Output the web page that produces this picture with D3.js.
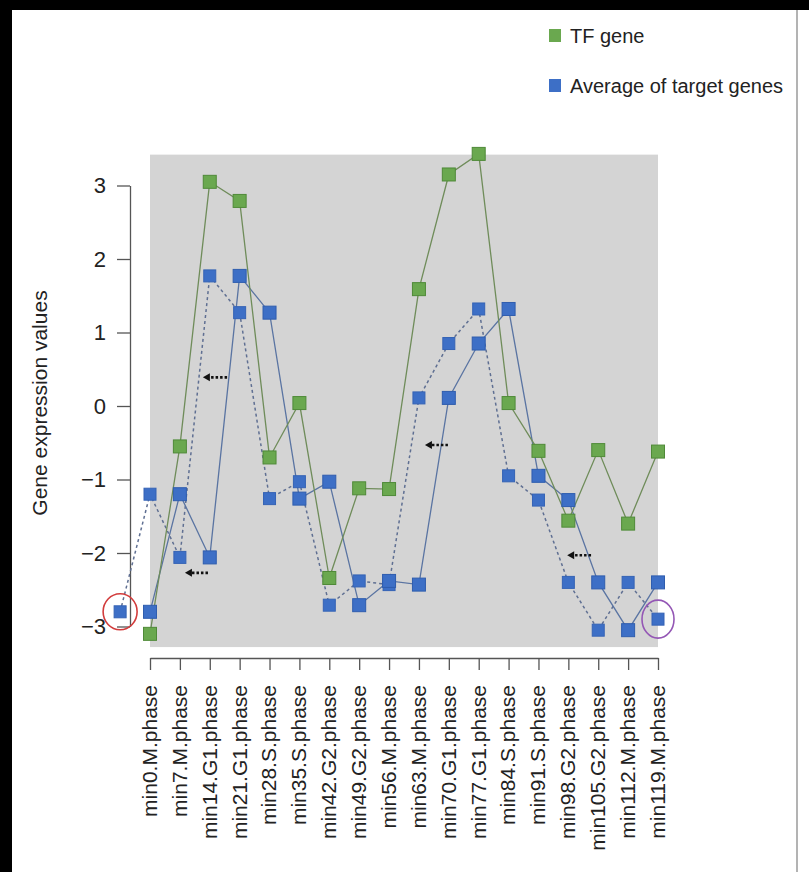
<!DOCTYPE html>
<html>
<head>
<meta charset="utf-8">
<script src="https://cdn.jsdelivr.net/npm/d3@7"></script>
<style>
  body { margin: 0; background: #fff; }
  svg { display: block; font-family: "Liberation Sans", Arial, Helvetica, sans-serif; }
</style>
</head>
<body>
<svg id="chart" width="809" height="872"></svg>
<script>
// time points (x categories)
var categories = ["min0.M.phase", "min7.M.phase", "min14.G1.phase", "min21.G1.phase",
    "min28.S.phase", "min35.S.phase", "min42.G2.phase", "min49.G2.phase", "min56.M.phase",
    "min63.M.phase", "min70.G1.phase", "min77.G1.phase", "min84.S.phase", "min91.S.phase",
    "min98.G2.phase", "min105.G2.phase", "min112.M.phase", "min119.M.phase"];

var tfGene = [-3.1, -0.55, 3.05, 2.79, -0.7, 0.04, -2.34, -1.12, -1.13, 1.59,
    3.15, 3.43, 0.04, -0.61, -1.56, -0.6, -1.6, -0.62];

var targetAvg = [-2.8, -1.2, -2.06, 1.77, 1.27, -1.26, -1.03, -2.71, -2.38, -2.43,
    0.11, 0.85, 1.32, -0.95, -1.28, -2.4, -3.05, -2.4];

// target average shifted one step earlier (starts one slot before min0)
var shiftedStart = -1;
var targetShifted = [-2.8, -1.2, -2.06, 1.77, 1.27, -1.26, -1.03, -2.71, -2.38, -2.43,
    0.11, 0.85, 1.32, -0.95, -1.28, -2.4, -3.05, -2.4, -2.9];

var yTicks = [-3, -2, -1, 0, 1, 2, 3];

// small dotted arrows (index, value) tail -> head
var arrows = [
    { x1: 2.58, x2: 1.77, y: 0.39 },
    { x1: 1.94, x2: 1.17, y: -2.27 },
    { x1: 9.97, x2: 9.2, y: -0.53 },
    { x1: 14.76, x2: 13.96, y: -2.03 }
];

var legendItems = [
    { label: "TF gene", color: "#6aa84f" },
    { label: "Average of target genes", color: "#3d6fc6" }
];

var svg = d3.select("#chart");

var x = d3.scaleLinear().domain([0, categories.length - 1]).range([150, 658]);
var y = d3.scaleLinear().domain([-3, 3]).range([626.5, 185.5]);

// frame
svg.append("rect").attr("x", 0).attr("y", 0).attr("width", 809).attr("height", 872).attr("fill", "#fff");
svg.append("rect").attr("x", 0).attr("y", 0).attr("width", 809).attr("height", 10).attr("fill", "#000");
svg.append("rect").attr("x", 0).attr("y", 0).attr("width", 12).attr("height", 872).attr("fill", "#000");
svg.append("line").attr("x1", 797).attr("x2", 797).attr("y1", 10).attr("y2", 872)
    .attr("stroke", "#9a9a9a").attr("stroke-width", 1.5);

// plot background
svg.append("rect")
    .attr("x", x(0))
    .attr("y", y(3.42))
    .attr("width", x(categories.length - 1) - x(0))
    .attr("height", y(-3.28) - y(3.42))
    .attr("fill", "#d4d4d4");

// y axis
var yAxis = svg.append("g")
    .attr("transform", "translate(130,0)")
    .call(d3.axisLeft(y).tickValues(yTicks).tickSize(13).tickSizeOuter(0).tickPadding(11)
        .tickFormat(d3.format("d")));
yAxis.select(".domain").attr("stroke", "#555").attr("stroke-width", 1.3);
yAxis.selectAll(".tick line").attr("stroke", "#555").attr("stroke-width", 1.3);
yAxis.selectAll("text").attr("font-size", 22).attr("fill", "#222");

// x axis
var xAxis = svg.append("g")
    .attr("transform", "translate(0,658)")
    .call(d3.axisBottom(x).tickValues(d3.range(categories.length)).tickSize(12).tickSizeOuter(0)
        .tickFormat(function (i) { return categories[i]; }));
xAxis.select(".domain").attr("stroke", "#555").attr("stroke-width", 1.3);
xAxis.selectAll(".tick line").attr("stroke", "#555").attr("stroke-width", 1.3);
xAxis.selectAll("text")
    .attr("transform", "rotate(-90)")
    .attr("x", -27)
    .attr("y", -1)
    .attr("dy", "0.35em")
    .attr("font-size", 21)
    .attr("fill", "#222")
    .style("text-anchor", "end");

// y title
svg.append("text")
    .attr("transform", "translate(47,403) rotate(-90)")
    .attr("text-anchor", "middle")
    .attr("font-size", 21)
    .attr("fill", "#222")
    .text("Gene expression values");

// lines
var line = d3.line()
    .x(function (d) { return x(d.i); })
    .y(function (d) { return y(d.v); });

function toPoints(values, start) {
    return values.map(function (v, k) { return { i: k + start, v: v }; });
}

var shiftedPts = toPoints(targetShifted, shiftedStart);
var targetPts = toPoints(targetAvg, 0);
var tfPts = toPoints(tfGene, 0);

svg.append("path").datum(shiftedPts)
    .attr("d", line).attr("fill", "none")
    .attr("stroke", "#5f6f92").attr("stroke-width", 1.5).attr("stroke-dasharray", "3,3");
svg.append("path").datum(targetPts)
    .attr("d", line).attr("fill", "none")
    .attr("stroke", "#5a74a2").attr("stroke-width", 1.3);
svg.append("path").datum(tfPts)
    .attr("d", line).attr("fill", "none")
    .attr("stroke", "#6f8c5a").attr("stroke-width", 1.3);

// markers
function drawSquares(pts, fill, stroke, size) {
    svg.append("g").selectAll("rect").data(pts).enter().append("rect")
        .attr("x", function (d) { return x(d.i) - size / 2; })
        .attr("y", function (d) { return y(d.v) - size / 2; })
        .attr("width", size)
        .attr("height", size)
        .attr("fill", fill)
        .attr("stroke", stroke)
        .attr("stroke-width", 1);
}
drawSquares(shiftedPts, "#3d6fc6", "#3563b5", 12);
drawSquares(targetPts, "#3d6fc6", "#2f5dae", 13);
drawSquares(tfPts, "#6aa84f", "#4f8a38", 13);

// highlight circles
svg.append("ellipse")
    .attr("cx", x(shiftedStart)).attr("cy", y(targetShifted[0]))
    .attr("rx", 17).attr("ry", 18)
    .attr("fill", "none").attr("stroke", "#d23c3c").attr("stroke-width", 1.6);
svg.append("ellipse")
    .attr("cx", x(shiftedStart + targetShifted.length - 1)).attr("cy", y(targetShifted[targetShifted.length - 1]))
    .attr("rx", 16).attr("ry", 19)
    .attr("fill", "none").attr("stroke", "#9457b5").attr("stroke-width", 1.6);

// arrows
var arrowG = svg.append("g");
arrows.forEach(function (a) {
    arrowG.append("line")
        .attr("x1", x(a.x1)).attr("x2", x(a.x2) + 5)
        .attr("y1", y(a.y)).attr("y2", y(a.y))
        .attr("stroke", "#111").attr("stroke-width", 2.6).attr("stroke-dasharray", "2.5,2");
    var hx = x(a.x2), hy = y(a.y);
    arrowG.append("path")
        .attr("d", "M" + hx + "," + hy + "L" + (hx + 7) + "," + (hy - 4) + "L" + (hx + 7) + "," + (hy + 4) + "Z")
        .attr("fill", "#111");
});

// legend
var legend = svg.append("g").attr("transform", "translate(549,29)");
legendItems.forEach(function (item, k) {
    var g = legend.append("g").attr("transform", "translate(0," + (k * 50) + ")");
    g.append("rect").attr("width", 12).attr("height", 13).attr("fill", item.color);
    g.append("text").attr("x", 21).attr("y", 6.5).attr("dy", "0.35em")
        .attr("font-size", 20).attr("fill", "#222").text(item.label);
});
</script>
</body>
</html>
